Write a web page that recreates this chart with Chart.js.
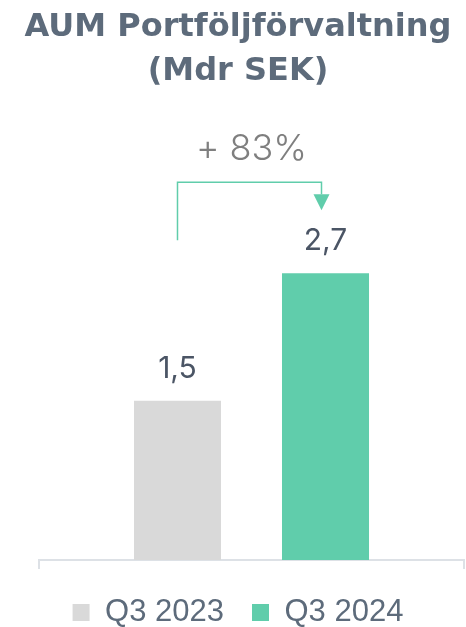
<!DOCTYPE html>
<html>
<head>
<meta charset="utf-8">
<script src="https://cdn.jsdelivr.net/npm/chart.js@4.4.1/dist/chart.umd.min.js"></script>
<style>
  html, body { margin: 0; padding: 0; background: #ffffff; overflow: hidden; }
  #wrap { position: relative; width: 466px; height: 638px; }
</style>
</head>
<body>
<div id="wrap"><canvas id="c"></canvas></div>
<script>
// ---- data ----
const titleLines = ["AUM Portföljförvaltning", "(Mdr SEK)"];
const categories = ["Q3 2023", "Q3 2024"];
const values = [1.5, 2.7];
const valueLabels = ["1,5", "2,7"];
const barColors = ["#d9d9d9", "#60cdab"];
const growthLabel = "+ 83%";

const datasets = categories.map((name, i) => ({
  label: name,
  data: [values[i]],
  backgroundColor: barColors[i],
  borderWidth: 0,
  categoryPercentage: 0.6965,
  barPercentage: 0.588
}));

const annotatePlugin = {
  id: 'annotate',
  afterDraw(chart) {
    const ctx = chart.ctx;
    const bars = chart.data.datasets.map((d, i) => chart.getDatasetMeta(i).data[0]);
    ctx.save();
    // value labels
    ctx.font = '400 30px Inter';
    ctx.fillStyle = '#4b5565';
    ctx.textAlign = 'center';
    ctx.textBaseline = 'alphabetic';
    bars.forEach((b, i) => ctx.fillText(valueLabels[i], b.x, b.y - 23));
    // bracket arrow
    const b0 = bars[0], b1 = bars[1];
    const top = Math.min(b0.y, b1.y);
    const ax = b1.x - 4;
    ctx.strokeStyle = '#60cdab';
    ctx.lineWidth = 1.5;
    ctx.beginPath();
    ctx.moveTo(b0.x, top - 33);
    ctx.lineTo(b0.x, top - 91);
    ctx.lineTo(ax, top - 91);
    ctx.lineTo(ax, top - 79);
    ctx.stroke();
    ctx.fillStyle = '#60cdab';
    ctx.beginPath();
    ctx.moveTo(ax - 8, top - 79);
    ctx.lineTo(ax + 8, top - 79);
    ctx.lineTo(ax, top - 63);
    ctx.closePath();
    ctx.fill();
    // growth label
    ctx.font = '300 36px Inter';
    ctx.fillStyle = '#7f7f7f';
    ctx.fillText(growthLabel, (b0.x + b1.x) / 2, top - 113);
    ctx.restore();
  }
};

new Chart(document.getElementById('c'), {
  type: 'bar',
  data: { labels: [""], datasets },
  options: {
    responsive: true,
    maintainAspectRatio: false,
    animation: false,
    layout: { padding: { left: 12, right: 2, top: 0, bottom: 0 } },
    plugins: {
      title: {
        display: true,
        text: titleLines,
        color: '#5d6b7b',
        font: { family: 'DejaVu Sans', weight: '700', size: 32, lineHeight: 1.375 },
        padding: { top: 6, bottom: 41 }
      },
      legend: {
        display: true,
        position: 'bottom',
        labels: {
          boxWidth: 17,
          boxHeight: 17,
          padding: 28,
          color: '#5d6b7b',
          font: { family: 'Liberation Sans', size: 31 }
        }
      },
      tooltip: { enabled: false }
    },
    scales: {
      x: {
        grid: { display: true, drawOnChartArea: false, drawTicks: true, tickLength: 9, color: '#dde1e6', lineWidth: 2, offset: true },
        border: { display: true, color: '#dde1e6', width: 2 },
        ticks: { display: false }
      },
      y: {
        min: 0,
        max: 4.0,
        grid: { display: false },
        border: { display: false },
        ticks: { display: false },
        afterFit(scale) { scale.width = 27; }
      }
    }
  },
  plugins: [annotatePlugin]
});
</script>
</body>
</html>
